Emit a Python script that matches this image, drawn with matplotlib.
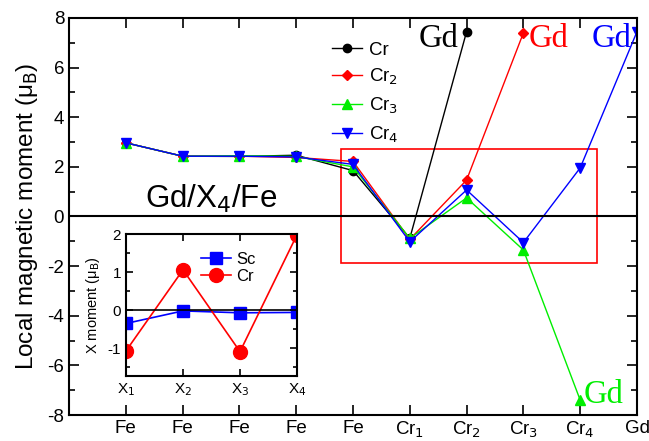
import matplotlib
matplotlib.use("Agg")
import matplotlib.pyplot as plt
from matplotlib.patches import Rectangle

plt.rcParams['font.family'] = ['Liberation Sans', 'DejaVu Sans']
plt.rcParams['axes.unicode_minus'] = False

x_labels = ['Fe', 'Fe', 'Fe', 'Fe', 'Fe', 'Cr$_1$', 'Cr$_2$', 'Cr$_3$', 'Cr$_4$', 'Gd']
cr1 = [2.97, 2.43, 2.42, 2.47, 1.85, -0.88, 7.45]
cr2 = [2.97, 2.43, 2.43, 2.38, 2.22, -0.92, 1.47, 7.40]
cr3 = [2.97, 2.43, 2.45, 2.42, 2.00, -0.88, 0.75, -1.35, -7.40]
cr4 = [2.97, 2.43, 2.43, 2.40, 2.10, -1.02, 1.07, -1.05, 1.96, 7.45]

inset_labels = ['X$_1$', 'X$_2$', 'X$_3$', 'X$_4$']
sc_x = [-0.35, -0.02, -0.07, -0.06]
cr_x = [-1.07, 1.06, -1.09, 1.98]

fig = plt.figure(figsize=(6.49, 4.41), dpi=100)
ax = fig.add_axes([69/649, 1-415/441, (637-69)/649, (415-18)/441])

series = [
    (cr1, 'k', 'o', 'Cr', 6),
    (cr2, 'red', 'D', 'Cr$_2$', 5),
    (cr3, '#00ee00', '^', 'Cr$_3$', 6.5),
    (cr4, 'blue', 'v', 'Cr$_4$', 6.5),
]
for vals, c, m, lab, ms in series:
    xs = list(range(1, len(vals) + 1))
    ax.plot(xs, vals, color=c, marker=m, ms=ms, lw=1, label=lab)

ax.axhline(0, color='k', lw=1.5)
ax.add_patch(Rectangle((4.79, -1.88), 4.51, 4.60, fill=False, ec='red', lw=1.2))

ax.set_xlim(0, 10)
ax.set_ylim(-8, 8)
ax.set_xticks(range(1, 11))
ax.set_xticklabels(x_labels, fontsize=13.5)
ax.set_yticks(range(-8, 9, 2))
ax.set_yticks(range(-7, 8, 2), minor=True)
ax.tick_params(axis='both', which='major', direction='in', length=7, width=1.2,
               top=True, right=True, labelsize=13.5)
ax.tick_params(axis='y', which='minor', direction='in', length=4, width=1.2, right=True)
for s in ax.spines.values():
    s.set_linewidth(1.5)
ax.set_ylabel('Local magnetic moment (μ$_\\mathrm{B}$)', fontsize=17.5, labelpad=5)

ax.text(2.5, 0.34, 'Gd/X$_4$/Fe', fontsize=22.5, ha='center', va='baseline')
serif = 'Liberation Serif'
ax.text(6.86, 6.83, 'Gd', color='k', fontsize=23.5, family=serif, ha='right', va='baseline')
ax.text(8.1, 6.83, 'Gd', color='red', fontsize=23.5, family=serif, ha='left', va='baseline')
ax.text(9.91, 6.83, 'Gd', color='blue', fontsize=23.5, family=serif, ha='right', va='baseline')
ax.text(9.06, -7.52, 'Gd', color='#00ee00', fontsize=23.5, family=serif, ha='left', va='baseline')

ax.legend(loc='upper left', bbox_to_anchor=(0.45, 0.96), frameon=False, fontsize=13.5,
          handlelength=1.6, handletextpad=0.35, labelspacing=0.45, borderaxespad=0)

# inset
ins = fig.add_axes([126/649, 1-376/441, (297-126)/649, (376-234)/441])
ix = [1, 2, 3, 4]
ins.plot(ix, sc_x, color='blue', marker='s', ms=9, lw=1.2, label='Sc')
ins.plot(ix, cr_x, color='red', marker='o', ms=10, lw=1.2, label='Cr')
ins.axhline(0, color='k', lw=1.2)
ins.set_xlim(1, 4)
ins.set_ylim(-1.73, 2)
ins.set_xticks(ix)
ins.set_xticklabels(inset_labels, fontsize=11)
ins.set_yticks([-1, 0, 1, 2])
ins.set_yticks([-1.5, -0.5, 0.5, 1.5], minor=True)
ins.tick_params(axis='both', which='major', direction='in', length=5, width=1.2,
                top=True, right=True, labelsize=11)
ins.tick_params(axis='y', which='minor', direction='in', length=3, width=1.2, right=True)
for s in ins.spines.values():
    s.set_linewidth(1.5)
ins.set_ylabel('X moment (μ$_\\mathrm{B}$)', fontsize=10.5, labelpad=4)
ins.legend(loc='upper left', bbox_to_anchor=(0.4, 0.92), frameon=False, fontsize=12,
           handlelength=1.8, handletextpad=0.3, labelspacing=0.1, borderaxespad=0)
ins.set_zorder(5)

fig.savefig('out.png', dpi=100)
